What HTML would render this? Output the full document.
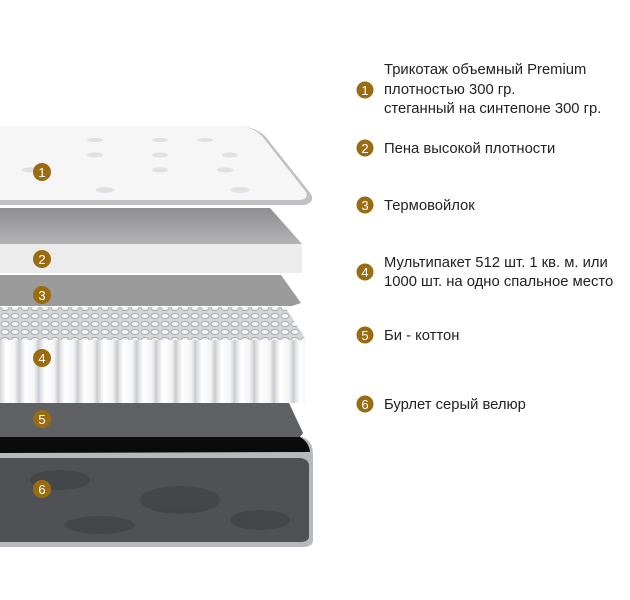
<!DOCTYPE html>
<html><head><meta charset="utf-8"><style>
html,body{margin:0;padding:0;background:#fff;}
svg{display:block;}
text{font-family:"Liberation Sans",sans-serif;}
.t{font-size:14.8px;fill:#222;}
.b{font-size:13px;fill:#fff;text-anchor:middle;}
</style></head><body>
<svg width="630" height="600" viewBox="0 0 630 600" xmlns="http://www.w3.org/2000/svg">
<defs>
<pattern id="spr" width="10" height="8" patternUnits="userSpaceOnUse">
<rect width="10" height="8" fill="#d4d6da"/>
<ellipse cx="5" cy="4" rx="4" ry="2.5" fill="#f4f4f5" stroke="#a9abb0" stroke-width="1"/>
</pattern>
<linearGradient id="col" x1="0" x2="1">
<stop offset="0" stop-color="#d3d4d8"/><stop offset="0.3" stop-color="#ffffff"/><stop offset="0.75" stop-color="#f4f4f5"/><stop offset="1" stop-color="#c4c6ca"/>
</linearGradient>
<pattern id="cols" width="19.6" height="70" patternUnits="userSpaceOnUse">
<rect width="19.6" height="70" fill="url(#col)"/>
</pattern>
<linearGradient id="g2" x1="0" y1="0" x2="0" y2="1">
<stop offset="0" stop-color="#8e8e90"/><stop offset="1" stop-color="#b3b3b5"/>
</linearGradient>
</defs>
<!-- layer 1 -->
<path d="M0,126 L240,126 Q255,127 265,136 L311,194 Q315,202 305,205 L0,205 Z" fill="#bfc1c5"/>
<path d="M0,126 L240,126 Q253,127 262,136 L306,192 Q309,199 300,200 L0,200 Z" fill="#f6f6f7"/>
<g fill="#e0e0e3">
<ellipse cx="105" cy="190" rx="9" ry="3"/><ellipse cx="240" cy="190" rx="9" ry="3"/>
<ellipse cx="95" cy="155" rx="8" ry="2.5"/><ellipse cx="160" cy="155" rx="8" ry="2.5"/><ellipse cx="230" cy="155" rx="8" ry="2.5"/>
<ellipse cx="95" cy="140" rx="8" ry="2"/><ellipse cx="160" cy="140" rx="8" ry="2"/><ellipse cx="205" cy="140" rx="8" ry="2"/>
<ellipse cx="160" cy="170" rx="8" ry="2.5"/><ellipse cx="225" cy="170" rx="8" ry="2.5"/><ellipse cx="30" cy="170" rx="8" ry="2.5"/>
</g>
<!-- layer 2 -->
<path d="M0,208 L270,208 L302,244 L0,244 Z" fill="url(#g2)"/>
<rect x="0" y="244" width="302" height="29" fill="#ececed"/>
<!-- layer 3 -->
<path d="M0,275 L281,275 L301,303 L292,306 L0,306 Z" fill="#9b9b9c"/>
<!-- layer 4 -->
<path d="M0,307 L285,307 L306,340 L306,342 L0,342 Z" fill="url(#spr)"/>
<rect x="0" y="340" width="306" height="63" fill="url(#cols)"/>
<!-- layer 5 -->
<path d="M0,403 L289,403 L303,433 L300,437 L0,437 Z" fill="#5f6063"/>
<!-- layer 6 -->
<path d="M0,437 L302,437 Q313,440 313,455 L313,540 Q313,547 302,547 L0,547 Z" fill="#b8b9bd"/>
<path d="M0,437 L300,437 Q309,442 310,452 L0,453 Z" fill="#0b0b0b"/>
<path d="M0,458 L300,458 Q309,459 309,466 L309,536 Q309,542 300,542 L0,542 Z" fill="#505155"/>
<g fill="#424346" opacity="0.8">
<ellipse cx="60" cy="480" rx="30" ry="10"/><ellipse cx="180" cy="500" rx="40" ry="14"/><ellipse cx="260" cy="520" rx="30" ry="10"/><ellipse cx="100" cy="525" rx="35" ry="9"/>
</g>
<g fill="#9a6c12">
<circle cx="42" cy="172" r="9"/><circle cx="42" cy="259" r="9"/><circle cx="42" cy="295" r="9"/>
<circle cx="42" cy="358" r="9"/><circle cx="42" cy="419" r="9"/><circle cx="42" cy="489" r="9"/>
<circle cx="365" cy="90" r="8.5"/><circle cx="365" cy="148" r="8.5"/><circle cx="365" cy="205" r="8.5"/>
<circle cx="365" cy="272" r="8.5"/><circle cx="365" cy="335" r="8.5"/><circle cx="365" cy="404" r="8.5"/>
</g>
<g>
<text class="b" x="42" y="177">1</text><text class="b" x="42" y="264">2</text><text class="b" x="42" y="300">3</text>
<text class="b" x="42" y="363">4</text><text class="b" x="42" y="424">5</text><text class="b" x="42" y="494">6</text>
<text class="b" x="365" y="95">1</text><text class="b" x="365" y="153">2</text><text class="b" x="365" y="210">3</text>
<text class="b" x="365" y="277">4</text><text class="b" x="365" y="340">5</text><text class="b" x="365" y="409">6</text>
</g>
<text class="t" x="384" y="74">Трикотаж объемный Premium</text>
<text class="t" x="384" y="94">плотностью 300 гр.</text>
<text class="t" x="384" y="113">стеганный на синтепоне 300 гр.</text>
<text class="t" x="384" y="153">Пена высокой плотности</text>
<text class="t" x="384" y="210">Термовойлок</text>
<text class="t" x="384" y="267">Мультипакет 512 шт. 1 кв. м. или</text>
<text class="t" x="384" y="286">1000 шт. на одно спальное место</text>
<text class="t" x="384" y="340">Би - коттон</text>
<text class="t" x="384" y="409">Бурлет серый велюр</text>
</svg>
</body></html>
